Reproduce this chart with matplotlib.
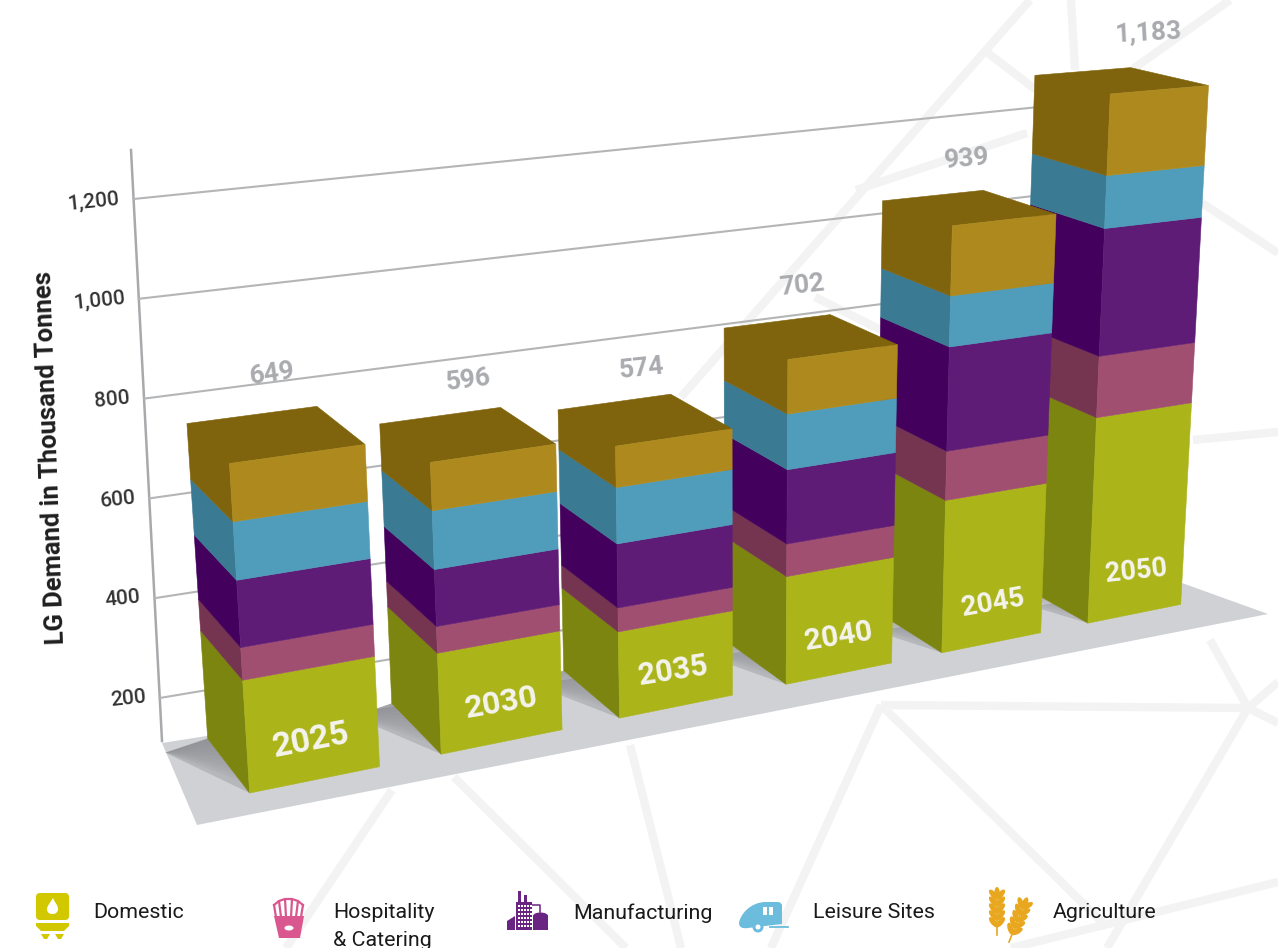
import numpy as np
import matplotlib
matplotlib.use("Agg")
import matplotlib.pyplot as plt
from matplotlib.patches import Ellipse, FancyBboxPatch, PathPatch, Polygon, Rectangle
from matplotlib.path import Path

plt.rcParams["font.family"] = ["Roboto", "DejaVu Sans"]

years = ["2025", "2030", "2035", "2040", "2045", "2050"]
sectors = ["Domestic", "Hospitality\n& Catering", "Manufacturing", "Leisure Sites", "Agriculture"]
domestic = [228, 211, 186, 239, 346, 477]
hospitality = [65, 55, 51, 71, 109, 138]
manufacturing = [132, 116, 135, 160, 227, 281]
leisure = [113, 118, 117, 118, 109, 114]
agriculture = [111, 96, 85, 114, 148, 173]
totals = [649, 596, 574, 702, 939, 1183]
axis_ticks = [200, 400, 600, 800, 1000, 1200]

front_colors = ["#abb51a", "#a14f70", "#5e1c77", "#509dbb", "#ae8a1e"]
side_colors = ["#7c8510", "#75344f", "#43005c", "#3a7a93", "#80640d"]
BAR_W = 0.67

# perspective camera: (bar position, depth, thousand tonnes) -> pixel
CAMERA = np.array([
    [207.91457, -31.36498, -44.95333, 249.59799],
    [-10.90748, -16.92809, -535.80666, 793.01477],
    [0.03701, 0.05078, -0.06072, 1.0],
])


def project(x, depth, value):
    h = CAMERA @ np.array([x, depth, value / 1000, 1.0])
    return h[0] / h[2], h[1] / h[2]


fig = plt.figure(figsize=(12.78, 9.48), dpi=100)
ax = fig.add_axes([0, 0, 1, 1])
ax.set_xlim(0, 1278)
ax.set_ylim(948, 0)
ax.axis("off")

# faint web pattern behind everything
web = [
    [(681, 397), (1030, 0)], [(1071, 0), (1075, 70)], [(984, 50), (1040, 93)],
    [(1230, 0), (1133, 69)], [(1202, 203), (1278, 253)], [(1193, 440), (1278, 432)],
    [(1210, 640), (1248, 708), (1107, 948)], [(1248, 708), (1278, 682)], [(1248, 708), (1278, 723)],
    [(881, 705), (1248, 708)], [(881, 705), (771, 948)], [(881, 705), (1107, 927)],
    [(630, 745), (681, 948)], [(454, 777), (626, 948)], [(392, 790), (286, 948)],
    [(1278, 882), (1011, 948)], [(856, 190), (1027, 133)], [(815, 297), (885, 332)],
]
for seg in web:
    ax.plot(*zip(*seg), color="#f3f3f3", lw=6, solid_capstyle="butt", zorder=1)

# floor and the shadow each bar throws on it
floor = [(162, 743), (197, 825), (1268, 614), (1182, 583)]
ax.add_patch(Polygon(floor, closed=True, fc="#cfd1d4", ec="none", zorder=2))
for i in range(6):
    corner = project(i - 0.24, 0.9, 0)
    ax.add_patch(Polygon([project(i, 1, 0), project(i, 0, 0), corner], closed=True,
                         fc="#7a7c82", ec="none", alpha=0.3, zorder=2))
    for k in range(10):
        ax.add_patch(Polygon([project(i, 1, 0), corner, project(i, 0.92 - 0.08 * k, 0)], closed=True,
                             fc="#7a7c82", ec="none", alpha=0.07, zorder=2))

# back wall grid, ticks and axis line
wall_vp = (7700, -570)


def tick_y(v):
    return 698 - (v - 200) * 0.499


def axis_x(y):
    return 131 + (y - 150) * 31 / 591


ax.plot([131, 162], [150, 741], color="#a8a9ac", lw=1.8, zorder=3)
for v in axis_ticks:
    y = tick_y(v)
    x = axis_x(y)
    slope = (wall_vp[1] - y) / (wall_vp[0] - x)
    ax.plot([x, 1060], [y, y + slope * (1060 - x)], color="#b4b5b7", lw=1.5, zorder=3)
    ax.text(x - 14, y - 1, f"{v:,}", ha="right", va="center", rotation=6, rotation_mode="anchor",
            fontsize=15, fontweight="medium", color="#333333", zorder=3)

ax.text(50, 458, "LG Demand in Thousand Tonnes", rotation=92, ha="center", va="center",
        fontsize=18.4, fontweight="bold", color="#1f1f1f", zorder=3)

# stacked bars, farthest first so nearer ones overlap them
stacks = [domestic, hospitality, manufacturing, leisure, agriculture]
for i in range(5, -1, -1):
    z = 0
    zo = 10 + (5 - i)
    x0, x1 = i, i + BAR_W
    for s in range(5):
        z1 = z + stacks[s][i]
        side = [project(x0, 1, z), project(x0, 0, z), project(x0, 0, z1), project(x0, 1, z1)]
        if s == 4:
            # top face shares the side colour, drawn as one shape
            side = [project(x0, 1, z), project(x0, 0, z), project(x0, 0, z1), project(x1, 0, z1),
                    project(x1, 1, z1), project(x0, 1, z1)]
        front = [project(x0, 0, z), project(x1, 0, z), project(x1, 0, z1), project(x0, 0, z1)]
        ax.add_patch(Polygon(side, closed=True, fc=side_colors[s], ec=side_colors[s], lw=0.4, zorder=zo))
        ax.add_patch(Polygon(front, closed=True, fc=front_colors[s], ec=front_colors[s], lw=0.4, zorder=zo))
        z = z1

# year on the front face, total above the bar
year_rotation = [11, 10, 9, 9, 10, 6]
year_size = [24.5, 23, 22, 21.5, 20, 19.5]
year_dx = [-2, 0, -3, -1, 0, 0]
year_dy = [5, 3, 5, 3, -1, -5]
total_rotation = [8, 7, 6, 6, 5, 3]
total_dx = [-3, 1, -3, -8, -1, 28]
total_dy = [-60, -54, -51, -51, -48, -48]
for i in range(6):
    x, y = project(i + BAR_W / 2, 0, 90)
    ax.text(x + year_dx[i], y + year_dy[i], years[i], ha="center", va="center", rotation=year_rotation[i],
            rotation_mode="anchor", fontsize=year_size[i], fontweight="bold", color="#f4f4ee", zorder=30)
    x, y = project(i + BAR_W / 2, 0.5, totals[i])
    ax.text(x + total_dx[i], y + total_dy[i], f"{totals[i]:,}", ha="center", va="center",
            rotation=total_rotation[i], rotation_mode="anchor", fontsize=19, fontweight="bold",
            color="#a9abae", zorder=4)

# legend labels
label_x = [93, 333, 573, 813, 1053]
for x, name in zip(label_x, sectors):
    ax.text(x, 903.5, name, ha="left", va="top", fontsize=15.4, color="#1a1a1a", linespacing=1.57, zorder=5)

# domestic icon: gas bottle
yellow = "#d2c800"
ax.add_patch(FancyBboxPatch((38, 895), 29, 23, boxstyle="round,pad=2,rounding_size=4", fc=yellow, ec="none", zorder=5))
ax.add_patch(Polygon([(36, 923), (69, 923), (69, 926), (64, 931), (41, 931), (36, 926)], closed=True, fc=yellow, ec="none", zorder=5))
ax.add_patch(Polygon([(41, 934), (50, 934), (47, 939), (44, 939)], closed=True, fc=yellow, ec="none", zorder=5))
ax.add_patch(Polygon([(55, 934), (64, 934), (61, 939), (58, 939)], closed=True, fc=yellow, ec="none", zorder=5))
flame = Path([(53, 898), (50, 903), (47, 906), (47, 909), (47, 913), (50, 914), (52.5, 914),
              (56, 914), (58, 912), (58, 909), (58, 905), (55, 903), (53, 898)],
             [Path.MOVETO] + [Path.CURVE4] * 12)
ax.add_patch(PathPatch(flame, fc="white", ec="none", zorder=6))

# hospitality icon: fries
pink = "#d9568f"
for bx, tx, ty in [(276, 274, 905), (281, 279, 901), (286, 285, 899), (291, 292, 899), (296, 298, 901), (301, 303, 905)]:
    ax.plot([bx, tx], [917, ty], color=pink, lw=1.6, solid_capstyle="round", zorder=5)
ax.plot([274, 279, 285, 292, 298, 303], [905, 901, 899, 899, 901, 905], color=pink, lw=1.6, zorder=5)
ax.add_patch(Polygon([(274, 916), (304, 916), (300, 938), (279, 938)], closed=True, fc=pink, ec="none", zorder=5))
ax.add_patch(Ellipse((289, 928), 9, 5, fc="white", ec="none", zorder=6))

# manufacturing icon: plant
plum = "#6a2482"
ax.add_patch(Rectangle((516, 902), 16, 28, fc=plum, ec="none", zorder=5))
ax.add_patch(Rectangle((518, 891), 3, 12, fc=plum, ec="none", zorder=5))
ax.add_patch(Rectangle((524, 895), 3, 8, fc=plum, ec="none", zorder=5))
ax.add_patch(Polygon([(507, 930), (507, 921), (515, 916), (515, 930)], closed=True, fc=plum, ec="none", zorder=5))
ax.add_patch(Rectangle((533, 916), 15, 14, fc=plum, ec="none", zorder=5))
ax.add_patch(Ellipse((540.5, 916), 15, 7, fc=plum, ec="none", zorder=5))
ax.plot([532, 540, 540], [905, 905, 912], color=plum, lw=1.1, zorder=5)
for wy in range(905, 928, 4):
    for wx in range(518, 531, 3):
        ax.add_patch(Rectangle((wx, wy), 1.7, 1.7, fc="white", ec="none", zorder=6))

# leisure icon: caravan
sky = "#6bbcdd"
body = Path([(782, 924), (782, 905), (781, 902), (778, 902), (766, 902), (750, 902), (740, 915), (739, 923),
             (739, 927), (742, 929), (748, 928), (782, 924)],
            [Path.MOVETO, Path.LINETO, Path.CURVE3, Path.CURVE3, Path.LINETO, Path.CURVE4, Path.CURVE4, Path.CURVE4,
             Path.CURVE4, Path.CURVE4, Path.CURVE4, Path.LINETO])
ax.add_patch(PathPatch(body, fc=sky, ec="none", zorder=5))
ax.add_patch(Ellipse((758, 927), 11, 11, fc=sky, ec="none", zorder=6))
ax.add_patch(Ellipse((758, 927), 5, 5, fc="white", ec="none", zorder=7))
ax.plot([770, 788], [927, 927], color=sky, lw=1.3, zorder=5)
ax.add_patch(Rectangle((763, 907), 4, 8, fc="white", ec="none", zorder=6))
ax.add_patch(Rectangle((769, 907), 4, 8, fc="white", ec="none", zorder=6))

# agriculture icon: two ears of wheat
gold = "#e8a71e"
for (sx, sy), (ex, ey), n in [((997, 935), (997, 892), 5), ((1009, 942), (1025, 902), 5)]:
    ax.plot([sx, ex], [sy, ey], color=gold, lw=1.2, zorder=5)
    dirx, diry = (ex - sx), (ey - sy)
    base = np.degrees(np.arctan2(diry, dirx))
    for k in range(n):
        t = 0.2 + k * 0.16
        cx, cy = sx + dirx * t, sy + diry * t
        for sign in (-1, 1):
            a = np.radians(base + sign * 40)
            ax.add_patch(Ellipse((cx + 5.5 * np.cos(a), cy + 5.5 * np.sin(a)), 12.5, 5.5, angle=base + sign * 40,
                                 fc=gold, ec="none", zorder=5))
    ax.add_patch(Ellipse((ex, ey + 1), 5.5, 12, angle=base + 90, fc=gold, ec="none", zorder=5))

fig.savefig("out.png", dpi=100)
